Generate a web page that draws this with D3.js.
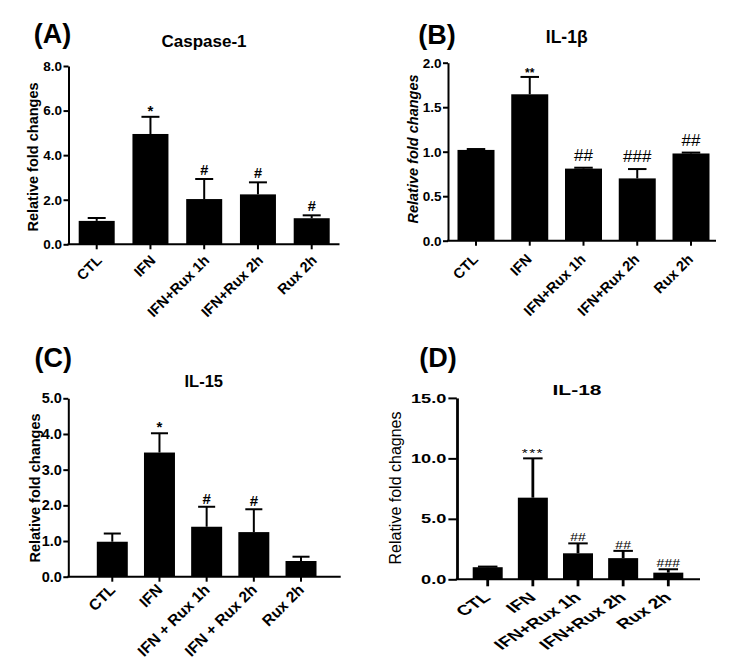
<!DOCTYPE html>
<html>
<head>
<meta charset="utf-8">
<script src="https://cdn.jsdelivr.net/npm/d3@7"></script>
<style>
  html, body { margin: 0; padding: 0; background: #fff; }
  text { font-family: "Liberation Sans", Arial, Helvetica, sans-serif; }
</style>
</head>
<body>
<svg id="chart" width="734" height="671"></svg>
<script>
// ---------------- DATA ----------------
const catsA = ["CTL", "IFN", "IFN+Rux 1h", "IFN+Rux 2h", "Rux 2h"];
const meanA = [1.05, 4.95, 2.03, 2.24, 1.17];
const errA  = [1.18, 5.72, 2.93, 2.78, 1.30];
const sigA  = ["", "*", "#", "#", "#"];
const ticksA = [0, 2, 4, 6, 8];

const catsB = ["CTL", "IFN", "IFN+Rux 1h", "IFN+Rux 2h", "Rux 2h"];
const meanB = [1.02, 1.645, 0.81, 0.70, 0.98];
const errB  = [1.03, 1.84, 0.82, 0.805, 0.99];
const sigB  = ["", "**", "##", "###", "##"];
const ticksB = [0, 0.5, 1.0, 1.5, 2.0];

const catsC = ["CTL", "IFN", "IFN + Rux 1h", "IFN + Rux 2h", "Rux 2h"];
const meanC = [0.98, 3.48, 1.40, 1.25, 0.44];
const errC  = [1.21, 4.02, 1.96, 1.89, 0.56];
const sigC  = ["", "*", "#", "#", ""];
const ticksC = [0, 1, 2, 3, 4, 5];

const catsD = ["CTL", "IFN", "IFN+Rux 1h", "IFN+Rux 2h", "Rux 2h"];
const meanD = [1.0, 6.75, 2.15, 1.75, 0.55];
const errD  = [1.05, 10.0, 2.97, 2.35, 0.83];
const sigD  = ["", "***", "##", "##", "###"];
const ticksD = [0, 5, 10, 15];

// ---------------- DRAW ----------------
const svg = d3.select("#chart");
svg.append("rect").attr("width", 734).attr("height", 671).attr("fill", "#fff");

function panel(o) {
  const sx = o.sx || 1;
  const L = v => (v - o.ox) / sx;
  const g = svg.append("g").attr("transform", `translate(${o.ox},0) scale(${sx},1)`);
  const pin = 1 - o.bw / o.step;
  const x = d3.scaleBand().domain(o.cats)
    .range([L(o.c0 - o.step / 2), L(o.cN + o.step / 2)])
    .paddingInner(pin).paddingOuter(pin / 2);
  const y = d3.scaleLinear().domain([0, o.max]).range([o.y0, o.yTop]);

  // bars
  g.selectAll("rect.bar").data(o.cats).join("rect").attr("class", "bar")
    .attr("x", d => x(d)).attr("width", x.bandwidth())
    .attr("y", (d, i) => y(o.mean[i]))
    .attr("height", (d, i) => y(0) - y(o.mean[i]))
    .attr("fill", "#000");

  // error bars (upper only)
  const cw = x.bandwidth() * o.capFrac;
  o.cats.forEach((d, i) => {
    const cx = x(d) + x.bandwidth() / 2;
    g.append("line").attr("x1", cx).attr("x2", cx)
      .attr("y1", y(o.mean[i])).attr("y2", y(o.err[i]))
      .attr("stroke", "#000").attr("stroke-width", 2);
    g.append("line").attr("x1", cx - cw / 2).attr("x2", cx + cw / 2)
      .attr("y1", y(o.err[i])).attr("y2", y(o.err[i]))
      .attr("stroke", "#000").attr("stroke-width", 2);
    if (o.sig[i]) {
      const isStar = o.sig[i].indexOf("*") >= 0;
      g.append("text").attr("x", cx).attr("y", y(o.err[i]) - (isStar ? o.starGap : o.hashGap))
        .attr("text-anchor", "middle")
        .attr("font-size", isStar ? o.starSize : o.hashSize)
        .attr("font-weight", isStar ? o.starWeight : o.hashWeight)
        .attr("letter-spacing", isStar ? (o.starLS || 0) : 0)
        .text(o.sig[i]);
    }
  });

  // y axis
  const ya = d3.axisLeft(y).tickValues(o.ticks).tickFormat(d3.format(".1f"))
    .tickSize(o.ytick).tickSizeOuter(0).tickPadding(1.5);
  const yg = g.append("g").call(ya);
  yg.select(".domain").attr("stroke-width", 2);
  yg.selectAll(".tick line").attr("stroke-width", 2);
  yg.selectAll(".tick text").attr("font-size", o.tickFont).attr("font-weight", "bold")
    .attr("fill", "#000");

  // x axis
  const xa = d3.axisBottom(x).tickSize(o.xtick).tickSizeOuter(0);
  const xg = g.append("g").attr("transform", `translate(0,${o.y0})`).call(xa);
  xg.select(".domain").remove();
  xg.append("line").attr("x1", -1 / sx).attr("x2", L(o.xEnd)).attr("y1", 0).attr("y2", 0)
    .attr("stroke", "#000").attr("stroke-width", 2);
  xg.selectAll(".tick line").attr("stroke-width", 2);
  xg.selectAll(".tick text")
    .attr("x", o.ldx).attr("y", o.ldy).attr("dy", null)
    .attr("text-anchor", "end")
    .attr("transform", `rotate(${o.rot || -45} ${o.ldx} ${o.ldy})`)
    .attr("font-size", o.xFont).attr("font-weight", "bold")
    .attr("fill", "#000");

  // title
  g.append("text").attr("x", L(o.titleX)).attr("y", o.titleY).attr("text-anchor", "middle")
    .attr("font-size", o.titleSize).attr("font-weight", "bold").text(o.title);

  // y label (unstretched)
  svg.append("text").attr("transform", `translate(${o.ylx},${o.yly}) rotate(-90)`)
    .attr("text-anchor", "middle").attr("font-size", o.ylSize)
    .attr("font-weight", o.ylWeight).attr("font-style", o.ylStyle || "normal")
    .text(o.ylabel);

  // panel letter
  svg.append("text").attr("x", o.letX).attr("y", o.letY).attr("text-anchor", "middle")
    .attr("font-size", 27).attr("font-weight", "bold").text(o.letter);
}

panel({
  cats: catsA, mean: meanA, err: errA, sig: sigA, ticks: ticksA, max: 8,
  ox: 68.5, y0: 244.3, yTop: 66, c0: 96.7, cN: 311.7, step: 53.75, bw: 36, xEnd: 339.5,
  capFrac: 0.5, ytick: 5, xtick: 5, tickFont: 13.5, xFont: 14.5, ldx: 6, ldy: 17,
  starSize: 15, starWeight: "bold", starGap: 1, hashSize: 14.5, hashWeight: "bold", hashGap: 4,
  title: "Caspase-1", titleX: 204, titleY: 47, titleSize: 17,
  ylabel: "Relative fold changes", ylx: 37.5, yly: 157, ylSize: 14.5, ylWeight: "bold",
  letter: "(A)", letX: 52.5, letY: 43
});

panel({
  cats: catsB, mean: meanB, err: errB, sig: sigB, ticks: ticksB, max: 2,
  ox: 448, y0: 240.7, yTop: 62.7, c0: 476, cN: 691, step: 53.75, bw: 37, xEnd: 716,
  capFrac: 0.5, ytick: 5, xtick: 5, tickFont: 13.5, xFont: 14.5, ldx: 3, ldy: 19.5,
  starSize: 12, starWeight: "bold", starGap: 0, hashSize: 17, hashWeight: "normal", hashGap: 7,
  title: "IL-1β", titleX: 566.7, titleY: 43, titleSize: 17.5,
  ylabel: "Relative fold changes", ylx: 417.5, yly: 149, ylSize: 14.5, ylWeight: "bold", ylStyle: "italic",
  letter: "(B)", letX: 437, letY: 44
});

panel({
  cats: catsC, mean: meanC, err: errC, sig: sigC, ticks: ticksC, max: 5,
  ox: 68.3, y0: 576.7, yTop: 398.3, c0: 112.3, cN: 301, step: 47.2, bw: 31, xEnd: 340.7,
  capFrac: 0.55, ytick: 5, xtick: 5, tickFont: 14.5, xFont: 15.5, ldx: 4, ldy: 14,
  starSize: 15, starWeight: "bold", starGap: 1, hashSize: 15, hashWeight: "bold", hashGap: 3,
  title: "IL-15", titleX: 203.8, titleY: 387, titleSize: 16.5,
  ylabel: "Relative fold changes", ylx: 40, yly: 488, ylSize: 14.5, ylWeight: "bold",
  letter: "(C)", letX: 53.3, letY: 367
});

panel({
  cats: catsD, mean: meanD, err: errD, sig: sigD, ticks: ticksD, max: 15, sx: 1.4,
  ox: 456.8, y0: 579.3, yTop: 397.9, c0: 487.7, cN: 668.3, step: 45.15, bw: 30, xEnd: 700,
  capFrac: 0.65, ytick: 6, xtick: 7, tickFont: 13, xFont: 14, ldx: 2.9, ldy: 19.4, rot: -42,
  starSize: 11, starWeight: "normal", starGap: 1, starLS: 1, hashSize: 10, hashWeight: "normal", hashGap: 2,
  title: "IL-18", titleX: 577, titleY: 395, titleSize: 15,
  ylabel: "Relative fold chagnes", ylx: 401, yly: 488, ylSize: 16, ylWeight: "normal",
  letter: "(D)", letX: 438, letY: 367
});
</script>
</body>
</html>
